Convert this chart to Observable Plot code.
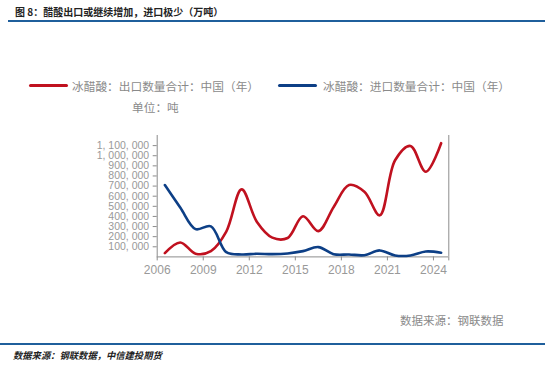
<!DOCTYPE html>
<html>
<head>
<meta charset="utf-8">
<script src="https://cdn.jsdelivr.net/npm/d3@7"></script>
<script src="https://cdn.jsdelivr.net/npm/@observablehq/plot@0.6"></script>
<style>
  html, body { margin: 0; padding: 0; background: #fff; }
  #root { position: relative; width: 550px; height: 367px; overflow: hidden; background: #fff; }
  .abs { position: absolute; white-space: nowrap; }
  .title { left: 15px; top: 5px; font: bold 10px "Noto Sans CJK SC", sans-serif; color: #222; line-height: 14px; }
  .rule { position: absolute; height: 2px; background: #1f5f9c; }
  .leg { font: 11.7px "Noto Sans CJK SC", sans-serif; color: #8a8a8a; line-height: 14px; }
  .sw { position: absolute; height: 3.2px; border-radius: 1.6px; }
  .src { font: 11.5px "Noto Sans CJK SC", sans-serif; color: #8a8a8a; line-height: 14px; }
  .foot { font: italic bold 9.3px "Noto Sans CJK SC", sans-serif; color: #222; line-height: 12px; }
  #chart { position: absolute; left: 0; top: 0; }
</style>
</head>
<body>
<div id="root">
  <div id="chart"></div>
  <div class="abs title">图 8：醋酸出口或继续增加，进口极少（万吨）</div>
  <div class="rule" style="left:8px; top:20px; width:537px;"></div>
  <div class="sw" style="left:29px; top:84.2px; width:39px; background:#c0111f;"></div>
  <div class="abs leg" style="left:72px; top:79px;">冰醋酸：出口数量合计：中国（年）</div>
  <div class="sw" style="left:278px; top:84.2px; width:39px; background:#0d3f86;"></div>
  <div class="abs leg" style="left:323px; top:79px;">冰醋酸：进口数量合计：中国（年）</div>
  <div class="abs leg" style="left:132px; top:100px;">单位：吨</div>
  <div class="abs src" style="left:400px; top:313px;">数据来源：钢联数据</div>
  <div class="rule" style="left:0px; top:343px; width:545px;"></div>
  <div class="abs foot" style="left:13px; top:349px;">数据来源：钢联数据，中信建投期货</div>
</div>
<script>
const years = [2006, 2007, 2008, 2009, 2010, 2011, 2012, 2013, 2014, 2015, 2016, 2017, 2018, 2019, 2020, 2021, 2022, 2023, 2024];
const exportTons = [37000, 143000, 32000, 57000, 250000, 667000, 345000, 190000, 187000, 402000, 255000, 494000, 710000, 643000, 411000, 955000, 1097000, 842000, 1124000];
const importTons = [710000, 488000, 275000, 302000, 47000, 24000, 31000, 27000, 34000, 57000, 97000, 27000, 24000, 17000, 64000, 14000, 14000, 54000, 41000];
const seriesNames = ["冰醋酸：出口数量合计：中国（年）", "冰醋酸：进口数量合计：中国（年）"];
const seriesColors = ["#c0111f", "#0d3f86"];
const yTicks = [100000, 200000, 300000, 400000, 500000, 600000, 700000, 800000, 900000, 1000000, 1100000];
const xTickYears = [2006, 2009, 2012, 2015, 2018, 2021, 2024];

const rows = [];
years.forEach((yr, i) => {
  rows.push({x: yr + 0.5, v: exportTons[i], s: seriesNames[0]});
  rows.push({x: yr + 0.5, v: importTons[i], s: seriesNames[1]});
});

const fmt = d => d3.format(",")(d).replace(/,/g, ", ");
const lastYear = years[years.length - 1] + 1;

const chart = Plot.plot({
  width: 550,
  height: 367,
  marginLeft: 156.7,
  marginRight: 101.7,
  marginTop: 135,
  marginBottom: 110.6,
  style: {fontFamily: "'Liberation Sans', Arial, sans-serif", fontSize: "11px", background: "transparent", color: "#999"},
  x: {domain: [years[0], lastYear]},
  y: {domain: [0, 1200000]},
  color: {domain: seriesNames, range: seriesColors},
  marks: [
    Plot.axisY({ticks: yTicks, tickFormat: fmt, tickSize: 4, tickPadding: 4, stroke: "#8c8c8c", fill: "#999", label: null, fontSize: 10.5}),
    Plot.axisX({ticks: [...xTickYears, lastYear], tickFormat: d => d === lastYear ? "" : String(d), tickSize: 4, tickPadding: 5, stroke: "#8c8c8c", fill: "#999", label: null, fontSize: 12}),
    Plot.ruleX([years[0]], {stroke: "#8c8c8c"}),
    Plot.ruleX([lastYear], {stroke: "#8c8c8c"}),
    Plot.ruleY([0], {stroke: "#8c8c8c"}),
    Plot.line(rows, {x: "x", y: "v", z: "s", stroke: "s", strokeWidth: 2.6, curve: "catmull-rom"})
  ]
});
document.getElementById("chart").appendChild(chart);
</script>
</body>
</html>
